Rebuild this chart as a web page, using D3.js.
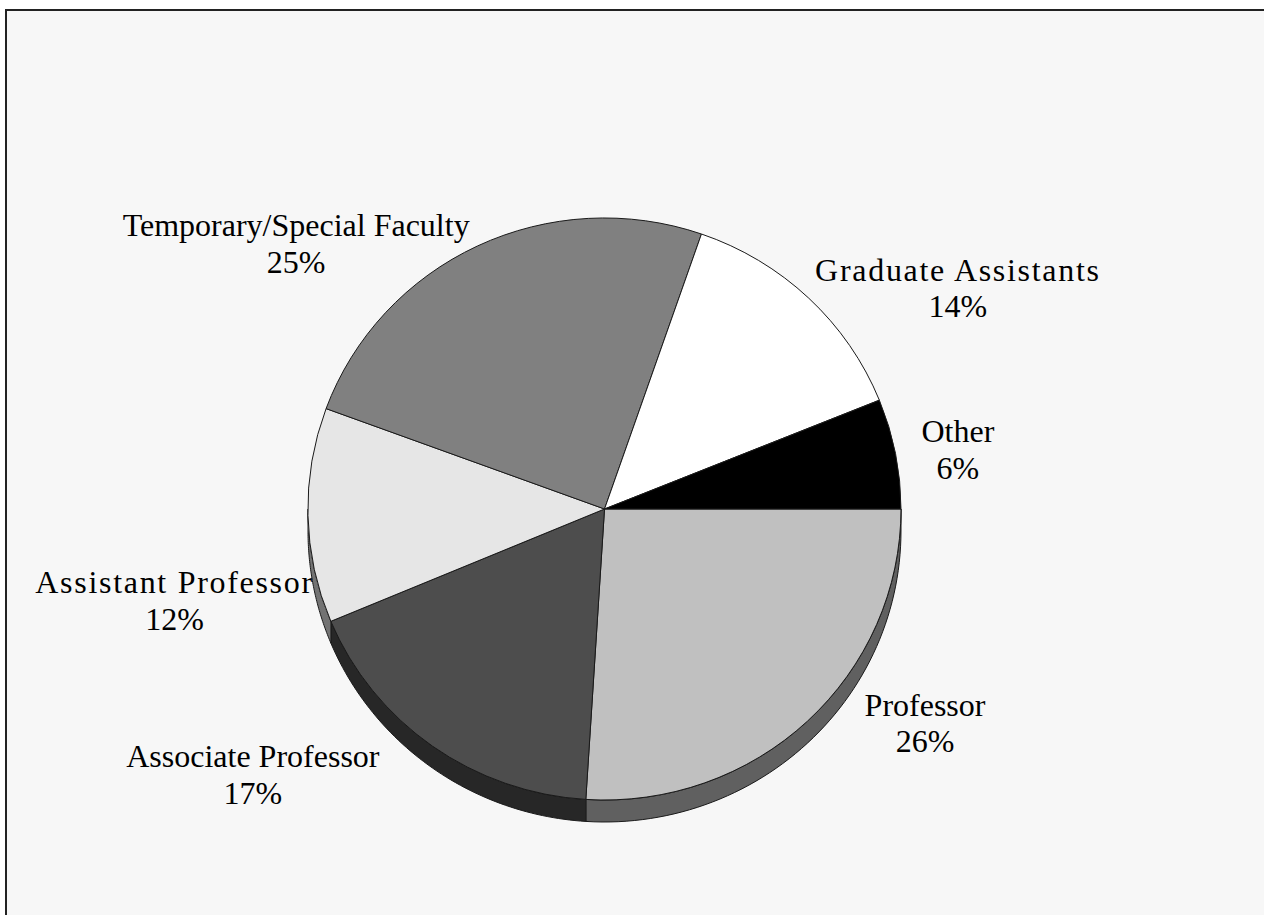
<!DOCTYPE html>
<html>
<head>
<meta charset="utf-8">
<script src="https://cdn.jsdelivr.net/npm/d3@7"></script>
<style>
  body { margin: 0; background: #fff; }
</style>
</head>
<body>
<div id="chart"></div>
<script>
// faculty mix pie, old office-chart look with a little depth underneath

var labels = ["Professor", "Associate Professor", "Assistant Professor",
    "Temporary/Special Faculty", "Graduate Assistants", "Other"]
// slice sizes as drawn (percent of total)
var shares = [26.0, 17.7, 11.9, 24.7, 13.6, 6.1]
// the percent text printed on the chart
var pctText = ["26%", "17%", "12%", "25%", "14%", "6%"]
var fills = ["#c0c0c0", "#4d4d4d", "#e6e6e6", "#808080", "#ffffff", "#000000"]

// where each label's first line sits, relative to the pie center, in radii
var labelAt = [[1.081, 0.711], [-1.186, 0.887], [-1.450, 0.289],
    [-1.040, -0.938], [1.192, -0.784], [1.192, -0.230]]
// a couple of the name lines are set looser in the original
var nameSpacing = [0, 0, 1.7, 0, 1.7, 0]

var width = 1264
var height = 915
var cx = 604.5, cy = 509
var rx = 296.5, ry = 291
var depth = 22

var svg = d3.select("#chart")
    .append("svg")
    .attr("width", width)
    .attr("height", height)

// plot area with its frame
svg.append("rect")
    .attr("x", 6)
    .attr("y", 10)
    .attr("width", width)
    .attr("height", height)
    .attr("fill", "#f7f7f7")
    .attr("stroke", "#222")
    .attr("stroke-width", 2)

// angles run clockwise from 3 o'clock, like the original
var pie = d3.pie().sort(null)
    .startAngle(Math.PI / 2)
    .endAngle(Math.PI / 2 + 2 * Math.PI)
var arcs = pie(shares)

var pt = (a, dy) => [cx + rx * Math.sin(a), cy - ry * Math.cos(a) + (dy || 0)]
var line = d3.line()

// side wall, only the front (lower) half shows
svg.append("g")
    .selectAll("path")
    .data(arcs.filter(d => d.startAngle < 3 * Math.PI / 2))
    .join("path")
    .attr("d", function (d) {
        var lo = Math.max(d.startAngle, Math.PI / 2)
        var hi = Math.min(d.endAngle, 3 * Math.PI / 2)
        var steps = d3.range(0, 61).map(i => lo + (hi - lo) * i / 60)
        var top = steps.map(a => pt(a))
        var bottom = steps.slice().reverse().map(a => pt(a, depth))
        return line(top.concat(bottom)) + "Z"
    })
    .attr("fill", d => d3.interpolateRgb(fills[d.index], "#000")(0.5))
    .attr("stroke", "#1a1a1a")
    .attr("stroke-width", 1)
    .attr("stroke-linejoin", "round")

// top face
var arc = d3.arc().innerRadius(0).outerRadius(1)
svg.append("g")
    .attr("transform", `translate(${cx},${cy}) scale(${rx},${ry})`)
    .selectAll("path")
    .data(arcs)
    .join("path")
    .attr("d", arc)
    .attr("fill", d => fills[d.index])
    .attr("stroke", "#1a1a1a")
    .attr("stroke-width", 1)
    .attr("vector-effect", "non-scaling-stroke")
    .attr("stroke-linejoin", "round")

// labels: name on one line, percent under it
var lab = svg.append("g")
    .attr("font-family", "'Liberation Serif', 'Times New Roman', serif")
    .attr("font-size", 32)
    .attr("fill", "#000")
    .attr("text-anchor", "middle")
    .selectAll("text")
    .data(arcs)
    .join("text")
    .attr("x", d => cx + labelAt[d.index][0] * rx)
    .attr("y", d => cy + labelAt[d.index][1] * ry)

lab.append("tspan")
    .attr("letter-spacing", d => nameSpacing[d.index])
    .text(d => labels[d.index])
lab.append("tspan")
    .attr("x", d => cx + labelAt[d.index][0] * rx)
    .attr("dy", 36.5)
    .text(d => pctText[d.index])
</script>
</body>
</html>
